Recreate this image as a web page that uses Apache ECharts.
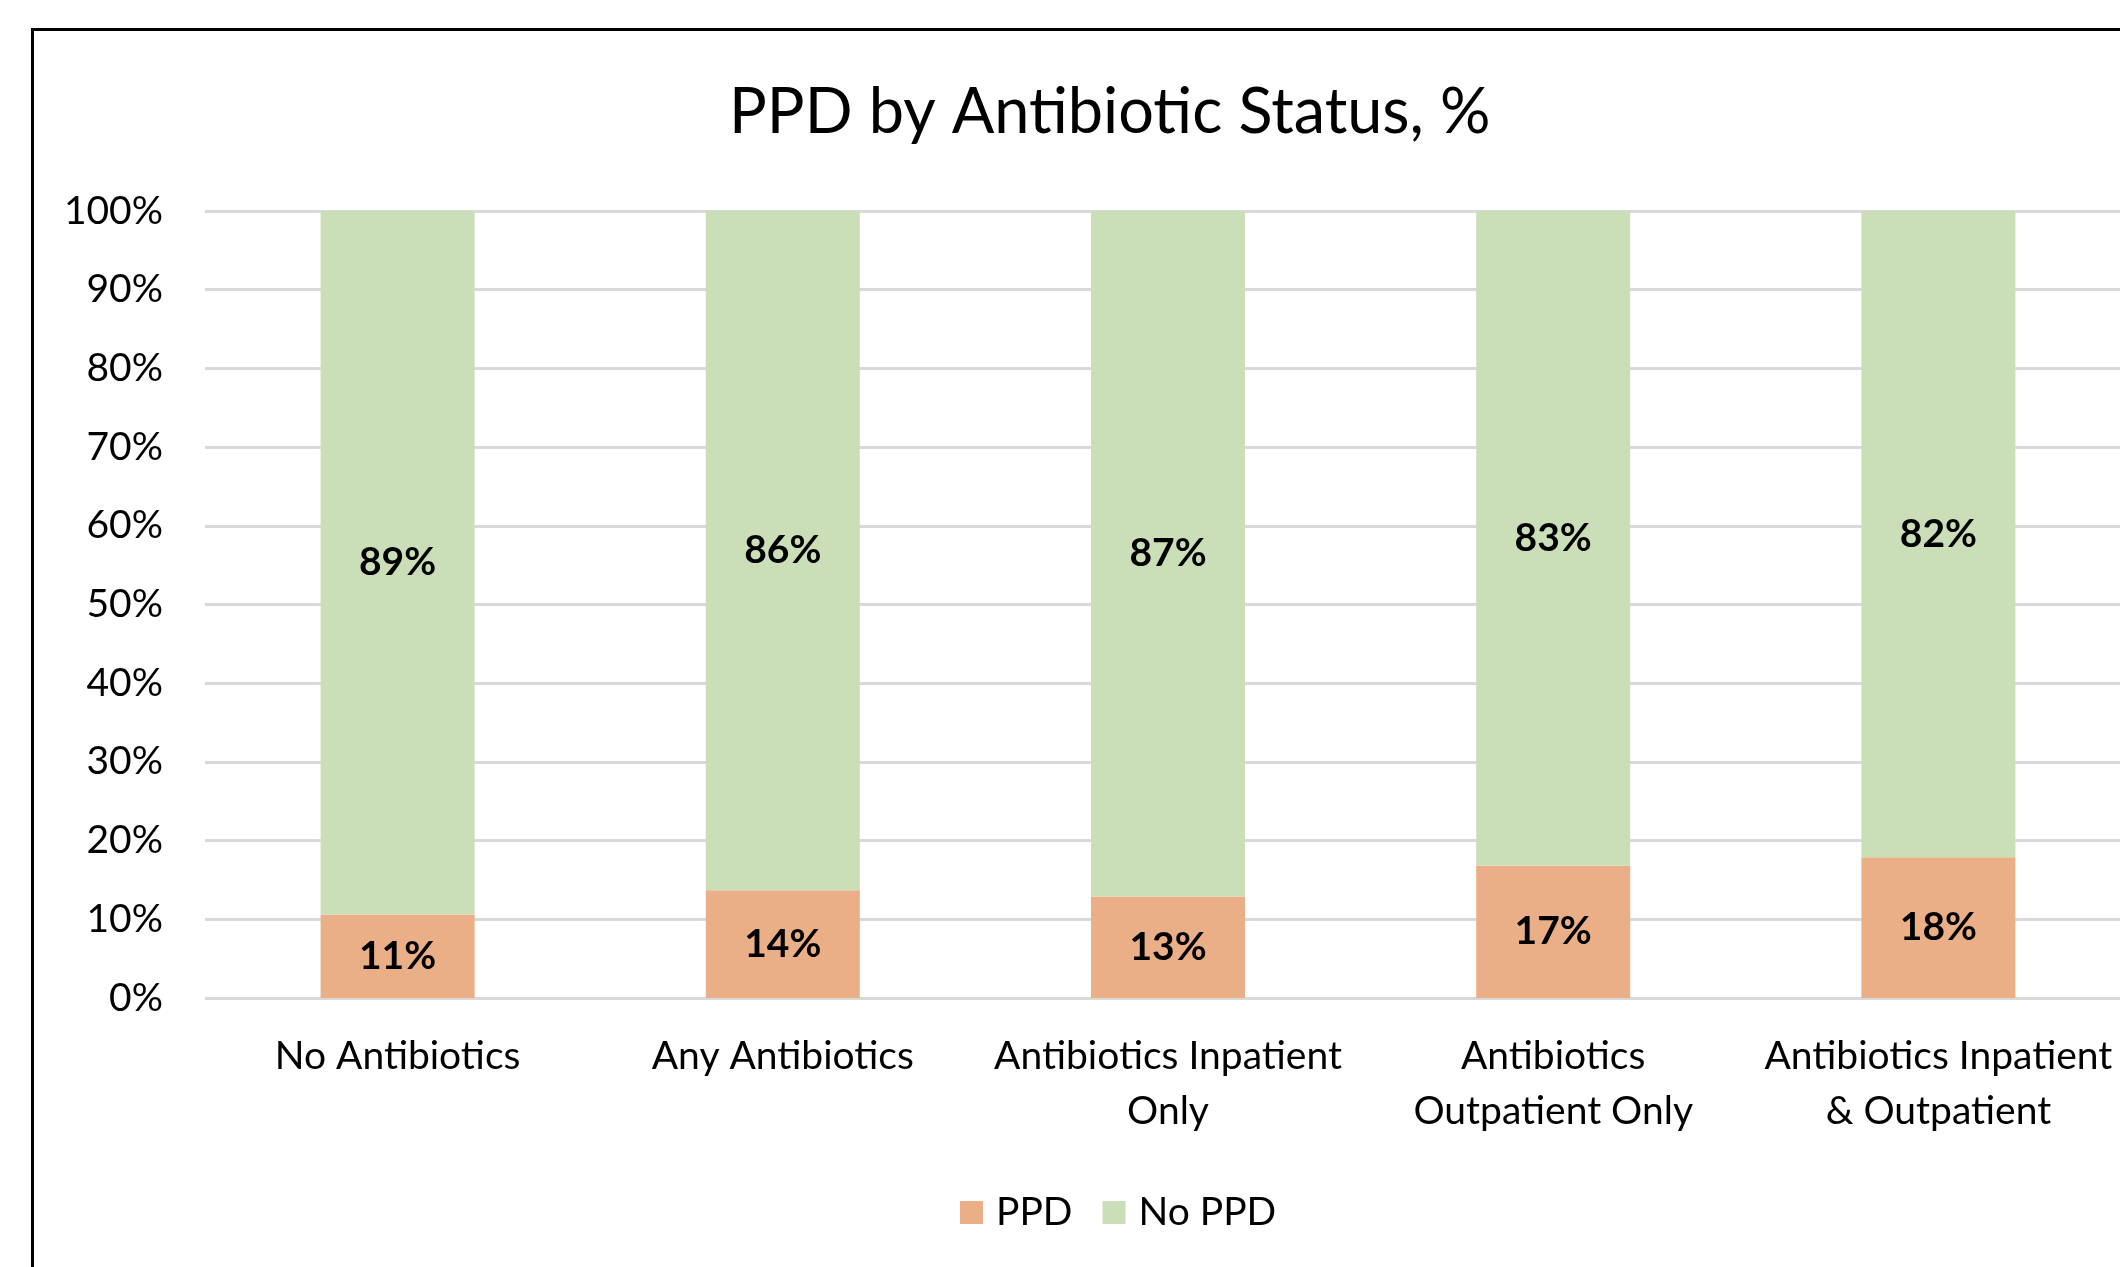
<!DOCTYPE html>
<html>
<head>
<meta charset="utf-8">
<script src="https://cdn.jsdelivr.net/npm/echarts@6/dist/echarts.min.js"></script>
<style>
html,body{margin:0;padding:0;background:#fff;}
#chart{width:2120px;height:1267px;}
</style>
</head>
<body>
<div id="chart"></div>
<script>
const titleText = 'PPD by Antibiotic Status, %';
const categories = ['No Antibiotics', 'Any Antibiotics', 'Antibiotics Inpatient\nOnly', 'Antibiotics\nOutpatient Only', 'Antibiotics Inpatient\n& Outpatient'];
const seriesNames = ['PPD', 'No PPD'];
const ppdValues = [10.6, 13.7, 12.9, 16.8, 17.9];
const noPpdValues = [89.4, 86.3, 87.1, 83.2, 82.1];
const yTicks = { min: 0, max: 100, interval: 10 };

const FONT = 'Lato';
const chart = echarts.init(document.getElementById('chart'), null, { renderer: 'canvas' });

const labelStyle = {
  show: true,
  position: 'inside',
  fontFamily: FONT,
  fontWeight: 'bold',
  fontSize: 39,
  color: '#000',
  formatter: p => Math.round(p.value) + '%'
};

chart.setOption({
  backgroundColor: '#fff',
  animation: false,
  title: {
    text: titleText,
    left: 729,
    top: 81,
    padding: 0,
    textStyle: { fontFamily: FONT, fontSize: 63, fontWeight: 'normal', color: '#000' }
  },
  graphic: [{
    type: 'rect',
    left: 30, top: 27,
    shape: { width: 2300, height: 1400 },
    style: { fill: 'none', stroke: '#000', lineWidth: 3 },
    silent: true
  }],
  legend: {
    data: seriesNames,
    left: 955,
    top: 1188,
    itemWidth: 23,
    itemHeight: 23,
    itemGap: 30,
    icon: 'rect',
    textStyle: { fontFamily: FONT, fontSize: 39, color: '#000', padding: [0, 0, 0, 8] }
  },
  grid: { left: 205, top: 211, width: 1926, height: 787, containLabel: false, outerBoundsMode: 'none' },
  xAxis: {
    type: 'category',
    data: categories,
    axisLine: { show: false },
    axisTick: { show: false },
    axisLabel: {
      interval: 0,
      margin: 31,
      fontFamily: FONT,
      fontSize: 39,
      lineHeight: 55,
      color: '#000',
      align: 'center',
      hideOverlap: false
    }
  },
  yAxis: {
    type: 'value',
    min: yTicks.min,
    max: yTicks.max,
    interval: yTicks.interval,
    axisLine: { show: false },
    axisTick: { show: false },
    splitLine: { lineStyle: { color: '#D9D9D9', width: 3 } },
    axisLabel: {
      formatter: '{value}%',
      margin: 42,
      fontFamily: FONT,
      fontSize: 39,
      color: '#000'
    }
  },
  series: [
    {
      name: seriesNames[0], type: 'bar', stack: 'total',
      data: ppdValues, barWidth: 154,
      itemStyle: { color: '#EBAF87' },
      label: labelStyle
    },
    {
      name: seriesNames[1], type: 'bar', stack: 'total',
      data: noPpdValues, barWidth: 154,
      itemStyle: { color: '#CADFB7' },
      label: labelStyle
    }
  ]
});
</script>
</body>
</html>
